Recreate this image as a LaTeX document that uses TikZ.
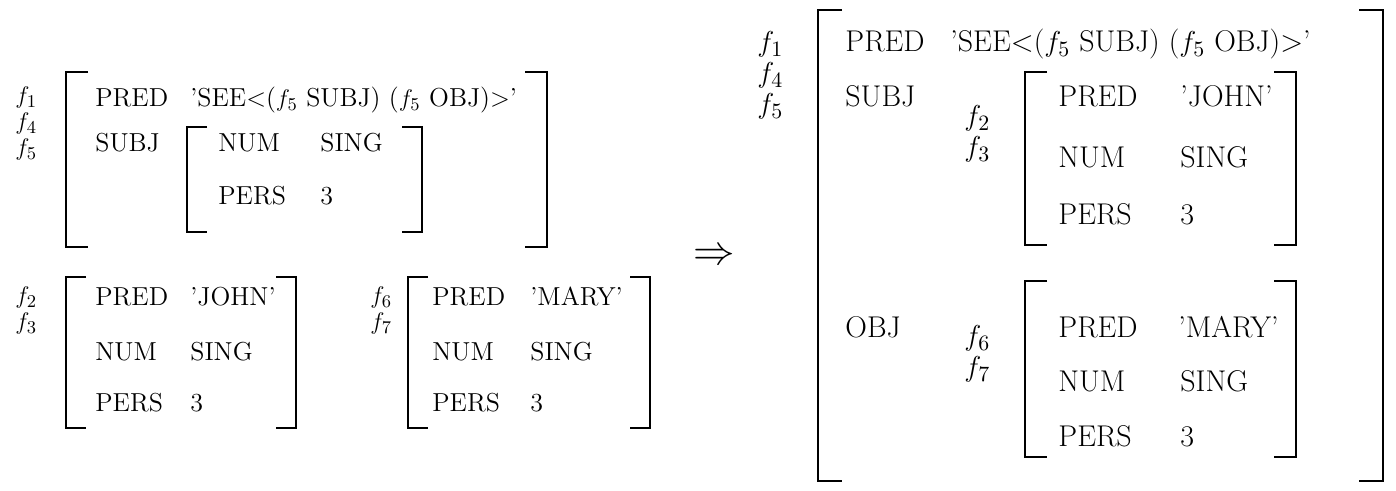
\documentclass[tikz,border=0pt]{standalone}
\tikzset{
  sm/.style={anchor=base west, inner sep=0pt, font=\fontsize{13}{15}\selectfont},
  smf/.style={anchor=base west, inner sep=0pt, font=\fontsize{12.8}{15}\selectfont},
  lg/.style={anchor=base west, inner sep=0pt, font=\fontsize{15}{17}\selectfont},
  lgf/.style={anchor=base west, inner sep=0pt, font=\fontsize{15.5}{18}\selectfont},
  brk/.style={line width=1.4pt, line cap=butt, line join=miter},
}
\newcommand\avmbrk[5]{%
  \draw[brk] (#1+#5,#3) -- (#1,#3) -- (#1,#4) -- (#1+#5,#4);
  \draw[brk] (#2-#5,#3) -- (#2,#3) -- (#2,#4) -- (#2-#5,#4);}
\begin{document}
\begin{tikzpicture}[x=0.5pt,y=-0.5pt]
\useasboundingbox (0,0) rectangle (1396,491);
% ---------- left top ----------
\node[smf] (a1) at (15,104) {$f_1$};
\node[smf] (a4) at (15,130) {$f_4$};
\node[smf] (a5) at (15,156) {$f_5$};
\avmbrk{66}{547}{72}{247}{22}
\node[sm] (ap) at (95,107) {PRED};
\node[sm] (av) at (190,107) {'SEE\textless($f_5$ SUBJ) ($f_5$ OBJ)\textgreater'};
\node[sm] (as) at (95,152) {SUBJ};
\avmbrk{187}{422}{127}{232}{20}
\node[sm] (an) at (218,152) {NUM};
\node[sm] (ang) at (320,152) {SING};
\node[sm] (ar) at (218,205) {PERS};
\node[sm] (ar3) at (320,205) {3};
% ---------- left bottom: john ----------
\node[smf] (b2) at (15,304) {$f_2$};
\node[smf] (b3) at (15,330) {$f_3$};
\avmbrk{66}{296}{277}{428}{20}
\node[sm] (bp) at (95,306) {PRED};
\node[sm] (bv) at (190,306) {'JOHN'};
\node[sm] (bn) at (95,360) {NUM};
\node[sm] (bng) at (190,360) {SING};
\node[sm] (br) at (95,411) {PERS};
\node[sm] (br3) at (190,411) {3};
% ---------- left bottom: mary ----------
\node[smf] (c6) at (370,304) {$f_6$};
\node[smf] (c7) at (370,330) {$f_7$};
\avmbrk{408}{650}{277}{428}{20}
\node[sm] (cp) at (432,306) {PRED};
\node[sm] (cv) at (530,306) {'MARY'};
\node[sm] (cn) at (432,360) {NUM};
\node[sm] (cng) at (530,360) {SING};
\node[sm] (cr) at (432,411) {PERS};
\node[sm] (cr3) at (530,411) {3};
% ---------- arrow ----------
\node[inner sep=0pt, font=\fontsize{20}{24}\selectfont] (arr) at (714,257) {$\Rightarrow$};
% ---------- right ----------
\node[lgf] (d1) at (757,52) {$f_1$};
\node[lgf] (d4) at (757,83) {$f_4$};
\node[lgf] (d5) at (757,114) {$f_5$};
\avmbrk{818}{1383}{10}{481}{24}
\node[lg] (dp) at (845,52) {PRED};
\node[lg] (dv) at (950,52) {'SEE\textless($f_5$ SUBJ) ($f_5$ OBJ)\textgreater'};
\node[lg] (ds) at (845,107) {SUBJ};
\node[lgf] (d2) at (964,126) {$f_2$};
\node[lgf] (d3) at (964,157) {$f_3$};
\avmbrk{1025}{1296}{72}{245}{22}
\node[lg] (ep) at (1058,107) {PRED};
\node[lg] (ev) at (1180,107) {'JOHN'};
\node[lg] (en) at (1058,168) {NUM};
\node[lg] (eng) at (1180,168) {SING};
\node[lg] (er) at (1058,225) {PERS};
\node[lg] (er3) at (1180,225) {3};
\node[lg] (do) at (845,337) {OBJ};
\node[lgf] (d6) at (964,346) {$f_6$};
\node[lgf] (d7) at (964,377) {$f_7$};
\avmbrk{1025}{1296}{281}{457}{22}
\node[lg] (fp) at (1058,337) {PRED};
\node[lg] (fv) at (1178,337) {'MARY'};
\node[lg] (fn) at (1058,391) {NUM};
\node[lg] (fng) at (1180,391) {SING};
\node[lg] (fr) at (1058,446) {PERS};
\node[lg] (fr3) at (1180,446) {3};
\end{tikzpicture}
\end{document}
